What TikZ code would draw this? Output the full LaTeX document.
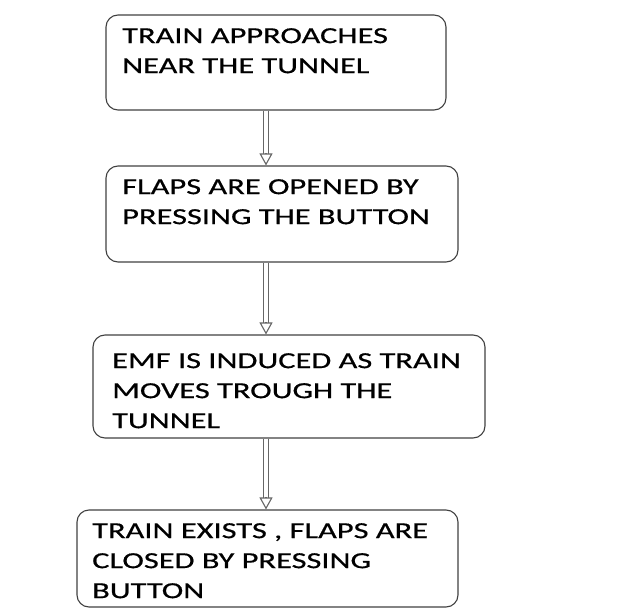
\documentclass[tikz,border=0pt]{standalone}
\usepackage{fontspec}
\setmainfont[FakeStretch=1.41,FakeBold=0.6]{Carlito}
\usetikzlibrary{calc,arrows.meta}

\begin{document}
\begin{tikzpicture}[x=1pt,y=-1pt,
  stepbox/.style={draw=black!75,line width=1.1pt,rounded corners=12pt,inner sep=0pt},
  steptext/.style={anchor=north west,inner sep=0pt,align=left,font=\fontsize{23}{30}\selectfont},
  dblline/.style={draw=black!60,double=white,double distance=3.2pt,line width=1.2pt},
  openhead/.style={draw=black!60,line width=1.1pt,-{Triangle[open,length=12pt,width=13pt,fill=white]}}]
\useasboundingbox (0,0) rectangle (631,609);
\node[stepbox,minimum width=340pt,minimum height=95pt] (approach) at (276,62.5) {};
\node[stepbox,minimum width=352pt,minimum height=96pt] (flaps) at (282,214) {};
\node[stepbox,minimum width=392pt,minimum height=103pt] (emf) at (289,386.5) {};
\node[stepbox,minimum width=381pt,minimum height=97pt] (exit) at (267.5,558.5) {};
\node[steptext] (approachtxt) at (122,28) {TRAIN APPROACHES\\NEAR THE TUNNEL};
\node[steptext] (flapstxt) at (122,179) {FLAPS ARE OPENED BY\\PRESSING THE BUTTON};
\node[steptext] (emftxt) at (112,353) {EMF IS INDUCED AS TRAIN\\MOVES TROUGH THE\\TUNNEL};
\node[steptext] (exittxt) at (92,523) {TRAIN EXISTS , FLAPS ARE\\CLOSED BY PRESSING\\BUTTON};
\coordinate (ax) at (266,0);
\draw[dblline](approach.south -| ax)--($(flaps.north -| ax)+(0,-11)$);
\draw[openhead]($(flaps.north -| ax)+(0,-12)$)--(flaps.north -| ax);
\draw[dblline](flaps.south -| ax)--($(emf.north -| ax)+(0,-11)$);
\draw[openhead]($(emf.north -| ax)+(0,-12)$)--(emf.north -| ax);
\draw[dblline](emf.south -| ax)--($(exit.north -| ax)+(0,-11)$);
\draw[openhead]($(exit.north -| ax)+(0,-12)$)--(exit.north -| ax);
\end{tikzpicture}
\end{document}
